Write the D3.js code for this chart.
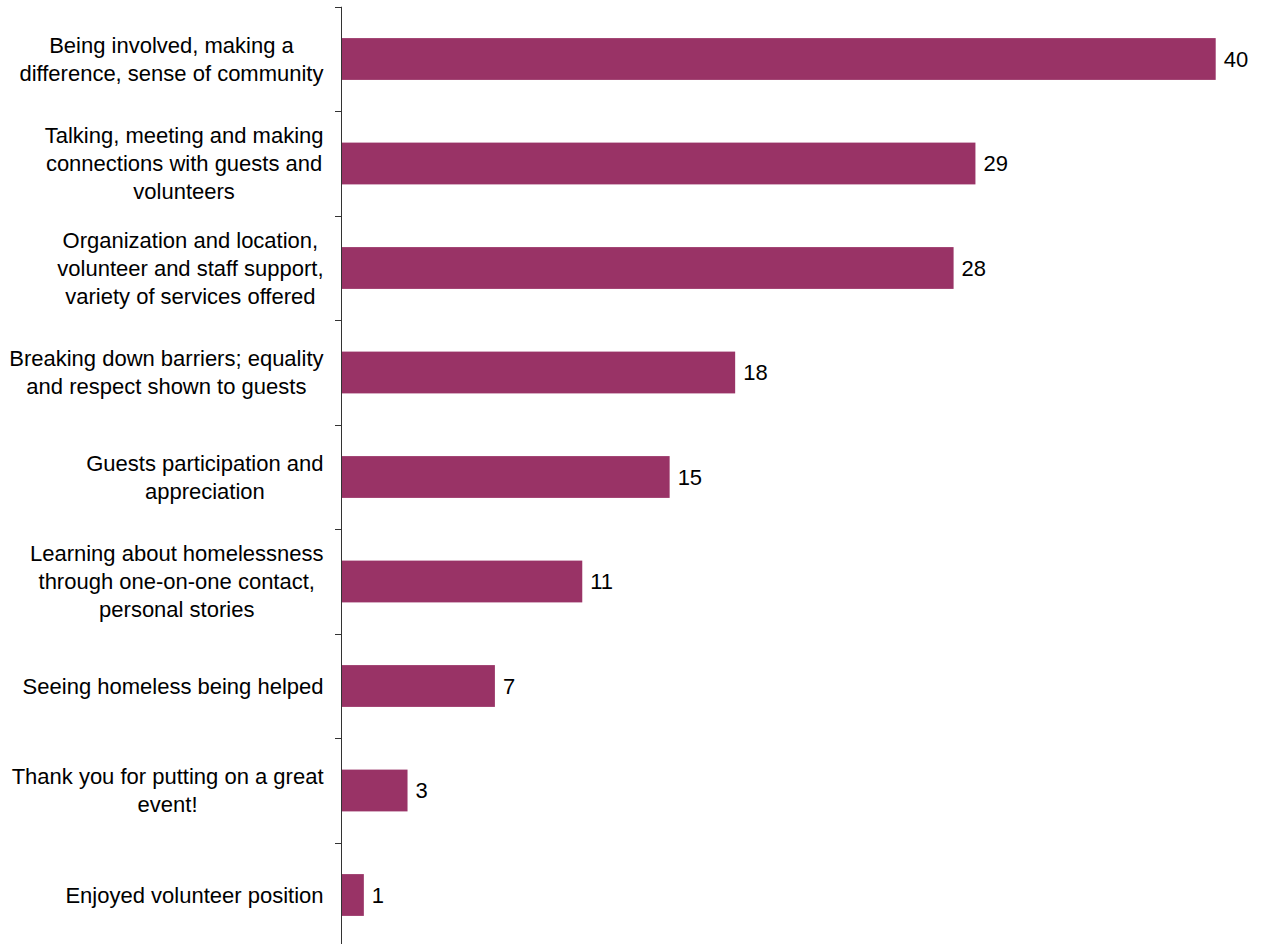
<!DOCTYPE html>
<html>
<head>
<meta charset="utf-8">
<script src="https://cdn.jsdelivr.net/npm/d3@7"></script>
<style>
  html, body { margin: 0; padding: 0; background: #fff; }
  svg { display: block; font-family: "Liberation Sans", Arial, sans-serif; }
</style>
</head>
<body>
<svg id="chart" width="1266" height="944"></svg>
<script>
// Category labels, already broken into their display lines
const categoryLines = [
  ["Being involved, making a", "difference, sense of community"],
  ["Talking, meeting and making", "connections with guests and", "volunteers"],
  ["Organization and location,", "volunteer and staff support,", "variety of services offered"],
  ["Breaking down barriers; equality", "and respect shown to guests"],
  ["Guests participation and", "appreciation"],
  ["Learning about homelessness", "through one-on-one contact,", "personal stories"],
  ["Seeing homeless being helped"],
  ["Thank you for putting on a great", "event!"],
  ["Enjoyed volunteer position"]
];
const values = [40, 29, 28, 18, 15, 11, 7, 3, 1];
const categories = categoryLines.map(l => l.join(" "));

const svg = d3.select("#chart");
const fontSize = 22;
const lineHeight = 28;
const axisX = 342;

const x = d3.scaleLinear().domain([0, 40]).range([axisX, 1215.7]);
const y = d3.scaleBand().domain(categories).range([6.75, 947.25]).paddingInner(0.6).paddingOuter(0.3);

// Bars
svg.append("g").selectAll("rect")
  .data(values)
  .join("rect")
  .attr("x", x(0))
  .attr("y", (d, i) => y(categories[i]))
  .attr("width", d => x(d) - x(0))
  .attr("height", y.bandwidth())
  .attr("fill", "#993366");

// Value labels
svg.append("g").selectAll("text")
  .data(values)
  .join("text")
  .attr("x", d => x(d) + 8)
  .attr("y", (d, i) => y(categories[i]) + y.bandwidth() / 2)
  .attr("dy", "0.35em")
  .attr("font-size", fontSize)
  .attr("fill", "#000")
  .text(d => d);

// Category axis: line plus ticks at band boundaries
const step = y.step();
const boundaries = d3.range(categories.length + 1).map(i => y.range()[0] + i * step);
const axisG = svg.append("g");
axisG.append("line")
  .attr("x1", axisX - 0.5).attr("x2", axisX - 0.5)
  .attr("y1", boundaries[0]).attr("y2", 944)
  .attr("stroke", "#333").attr("stroke-width", 1);
axisG.selectAll("line.tick")
  .data(boundaries.slice(0, categories.length))
  .join("line")
  .attr("class", "tick")
  .attr("x1", axisX - 7).attr("x2", axisX - 0.5)
  .attr("y1", d => Math.round(d) + 0.5).attr("y2", d => Math.round(d) + 0.5)
  .attr("stroke", "#333").attr("stroke-width", 1);

// Wrapped category labels, centered per block, block right-aligned near the axis
const labelRight = 323.5;
const labelG = svg.append("g");
categoryLines.forEach((lines, i) => {
  const cy = y(categories[i]) + y.bandwidth() / 2;
  const t = labelG.append("text")
    .attr("font-size", fontSize)
    .attr("fill", "#000")
    .attr("text-anchor", "middle");
  lines.forEach((ln, j) => {
    t.append("tspan")
      .attr("y", cy + (j - (lines.length - 1) / 2) * lineHeight)
      .attr("dy", "0.35em")
      .text(ln);
  });
  // widest line determines the block's horizontal position
  let maxW = 0;
  t.selectAll("tspan").each(function () {
    maxW = Math.max(maxW, this.getComputedTextLength());
  });
  const cx = labelRight - maxW / 2;
  t.selectAll("tspan").attr("x", cx);
});
</script>
</body>
</html>
